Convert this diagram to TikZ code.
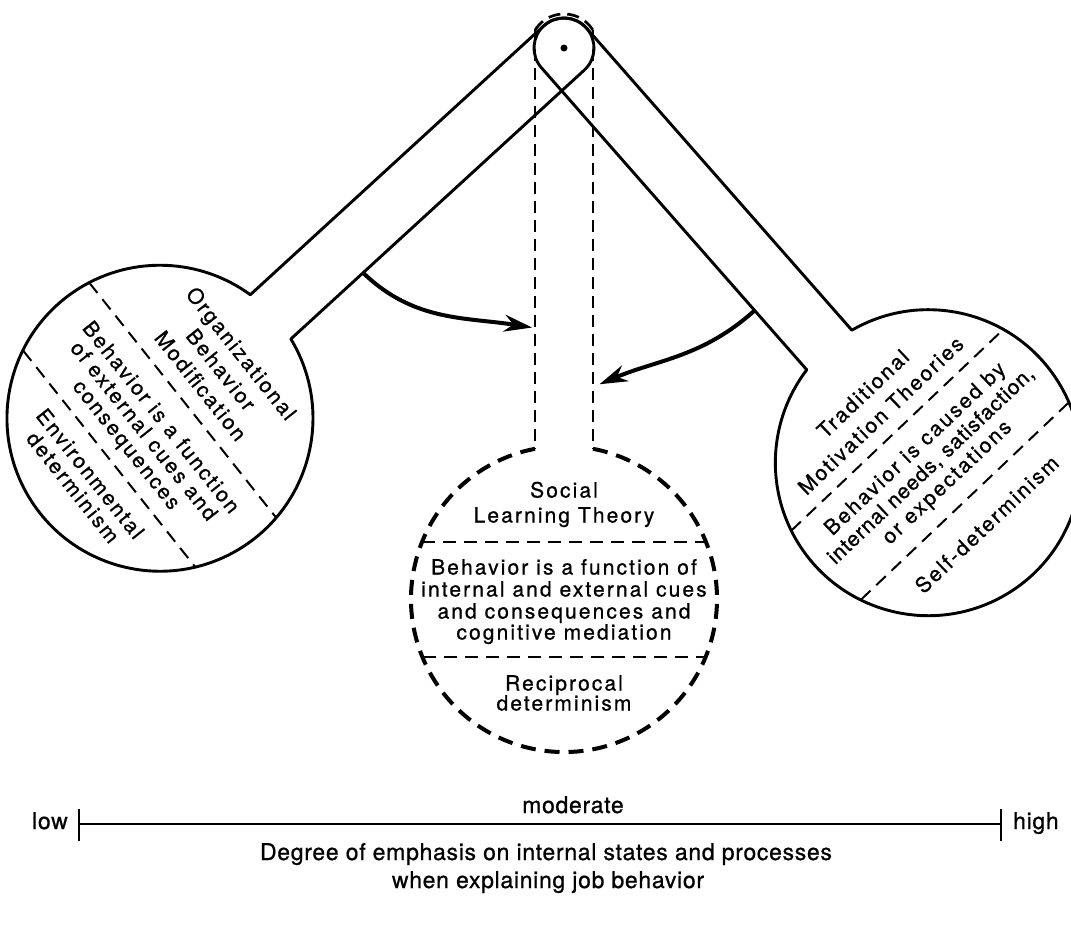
\documentclass[tikz,border=0pt]{standalone}
\usepackage{fontspec}
\setmainfont{TeX Gyre Heros}
\newfontfamily\trk[LetterSpace=10,FakeBold=0.8]{TeX Gyre Heros}
\newfontfamily\trknarrow[LetterSpace=4,FakeBold=0.8]{TeX Gyre Heros}
\newfontfamily\btm[LetterSpace=3,FakeBold=0.8]{TeX Gyre Heros}
\usetikzlibrary{arrows.meta}
\begin{document}
\begin{tikzpicture}[x=1pt,y=1pt,
  outline/.style={line width=2.9pt, line join=round},
  sepline/.style={line width=2pt, dash pattern=on 13pt off 8pt},
  stemdash/.style={line width=2.7pt, dash pattern=on 12pt off 7pt},
  bowl/.style={line width=4pt, dash pattern=on 15pt off 9pt},
  txt/.style={font=\trk\fontsize{21}{25}\selectfont, inner sep=0pt, text height=15pt, text depth=0pt, anchor=center},
  ntxt/.style={txt, font=\trknarrow\fontsize{21}{25}\selectfont},
  btxt/.style={font=\btm\fontsize{23}{27}\selectfont, inner sep=0pt, text height=16pt, text depth=0pt},
  swing/.style={line width=4pt, -{Stealth[length=28pt,width=17pt]}}
]
\useasboundingbox (0,0) rectangle (1071,-924);
\clip (0,0) rectangle (1071,-924);

% ---------- left pendulum ----------
\begin{scope}[shift={(564,-48)}, rotate=-47.5]
  \draw[outline] (-30,0) arc[start angle=180,end angle=0,radius=30]
     -- (30,-398) arc[start angle=78.69,end angle=-258.69,radius=153] -- cycle;
  \coordinate (Lc) at (0,-548);
  \coordinate (Larr) at (30,-300);
\end{scope}

% ---------- right pendulum ----------
\begin{scope}[shift={(564,-48)}, rotate=41.3]
  \draw[outline] (-30,0) arc[start angle=180,end angle=0,radius=30]
     -- (30,-402) arc[start angle=78.69,end angle=-258.69,radius=153] -- cycle;
  \coordinate (Rc) at (0,-552);
  \coordinate (Rarr) at (-30,-323);
\end{scope}

% ---------- central (dashed) pendulum ----------
\begin{scope}[shift={(564,-48)}]
  \draw[stemdash] (-29,17.8) arc[start angle=148.5,end angle=31.5,radius=34];
  \draw[stemdash] (-29,17.8) -- (-29,-400.8);
  \draw[stemdash] (29,17.8) -- (29,-400.8);
  \draw[bowl] (29,-400.8) arc[start angle=79.07,end angle=-259.07,radius=153];
  \coordinate (Cc) at (0,-551);
  \coordinate (Sl) at (-29,-280);
  \coordinate (Sr) at (29,-339);
  \fill (0,0) circle (3.5);
\end{scope}

% ---------- swing arrows ----------
\draw[swing, shorten >=3pt] (Larr) to[out=-44, in=171] (Sl);
\draw[swing, shorten >=7pt] (Rarr) to[out=-138, in=23] (Sr);

% ---------- central circle content ----------
\begin{scope}[shift={(Cc)}]
  \node[txt] (c1) at (0,109) {Social};
  \node[txt] (c2) at (0,84) {Learning Theory};
  \draw[sepline] (-142,57) -- (142,57);
  \node[txt] (c3) at (0,32) {Behavior is a function of};
  \node[txt] (c4) at (0,10) {internal and external cues};
  \node[txt] (c5) at (0,-12) {and consequences and};
  \node[txt] (c6) at (0,-33) {cognitive mediation};
  \draw[sepline] (-141,-58) -- (141,-58);
  \node[txt] (c7) at (0,-84) {Reciprocal};
  \node[txt] (c8) at (0,-104) {determinism};
\end{scope}

% ---------- left circle content ----------
\begin{scope}[shift={(Lc)}, rotate=-51.5, transform shape]
  \node[txt] (l1) at (0,104) {Organizational};
  \node[txt] (l2) at (0,78) {Behavior};
  \node[txt] (l3) at (0,52) {Modification};
  \draw[sepline] (-150,29) -- (150,29);
  \node[txt] (l4) at (0,2) {Behavior is a function};
  \node[txt] (l5) at (0,-20) {of external cues and};
  \node[txt] (l6) at (0,-42) {consequences};
  \draw[sepline] (-138,-65) -- (138,-65);
  \node[txt] (l7) at (0,-89) {Environmental};
  \node[txt] (l8) at (0,-111) {determinism};
\end{scope}

% ---------- right circle content ----------
\begin{scope}[shift={(Rc)}, rotate=43.5, transform shape]
  \node[txt] (r1) at (0,95) {Traditional};
  \node[txt] (r2) at (-2,67) {Motivation Theories};
  \draw[sepline] (-146,45) -- (146,45);
  \node[txt] (r3) at (0,20) {Behavior is caused by};
  \node[ntxt] (r4) at (0,-3) {internal needs, satisfaction,};
  \node[txt] (r5) at (0,-26) {or expectations};
  \draw[sepline] (-143,-53) -- (143,-53);
  \node[txt] (r6) at (0,-85) {Self-determinism};
\end{scope}

% ---------- scale ----------
\coordinate (lowend) at (79,-824);
\coordinate (highend) at (1001,-824);
\draw[line width=2.6pt] (lowend) -- (highend);
\draw[line width=2.6pt] ([yshift=15pt]lowend) -- ([yshift=-17pt]lowend);
\draw[line width=2.6pt] ([yshift=15pt]highend) -- ([yshift=-17pt]highend);
\node[btxt, anchor=east] (low) at (68,-821) {low};
\node[btxt, anchor=west] (high) at (1013,-821) {high};
\node[btxt] (mod) at (573,-805) {moderate};
\node[btxt] (deg) at (546,-852) {Degree of emphasis on internal states and processes};
\node[btxt] (when) at (548,-880) {when explaining job behavior};
\end{tikzpicture}
\end{document}
